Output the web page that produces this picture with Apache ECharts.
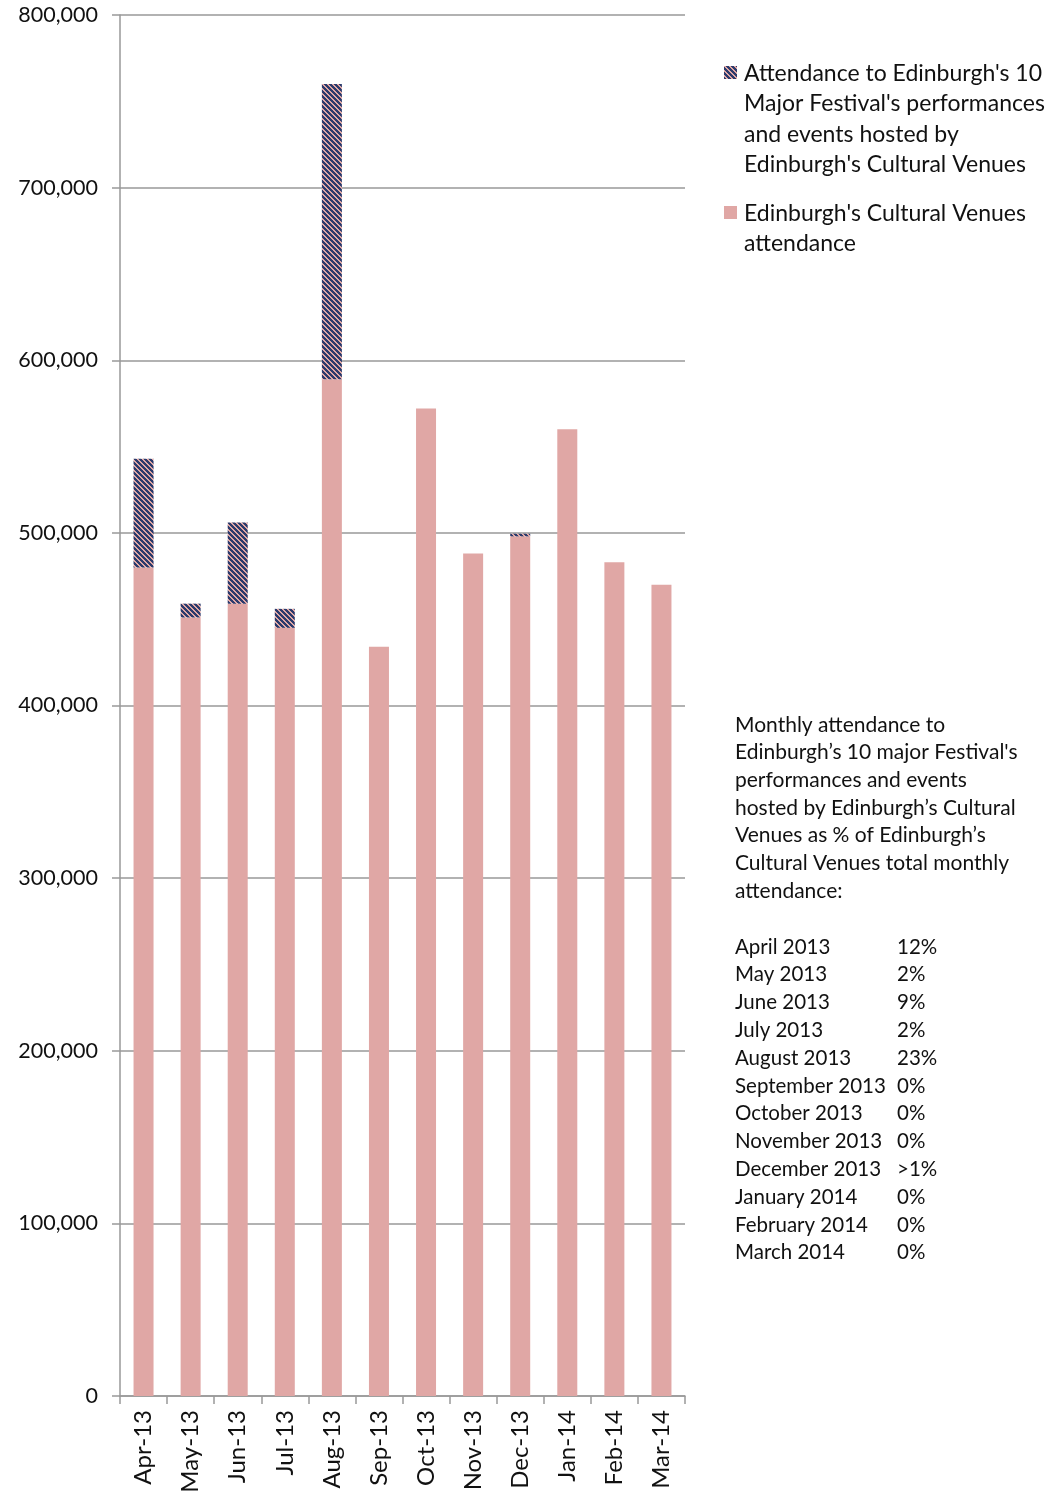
<!DOCTYPE html>
<html><head><meta charset="utf-8">
<script src="https://cdn.jsdelivr.net/npm/echarts@6/dist/echarts.min.js"></script>
<style>html,body{margin:0;padding:0;background:#fff}#c{width:1047px;height:1491px}</style>
</head><body><div id="c"></div>
<script>
const categories = ['Apr-13','May-13','Jun-13','Jul-13','Aug-13','Sep-13','Oct-13','Nov-13','Dec-13','Jan-14','Feb-14','Mar-14'];
const venuesAttendance = [480000,451000,459000,445000,589000,434000,572000,488000,498000,560000,483000,470000];
const festivalAttendance = [63000,8000,47000,11000,171000,0,0,0,1500,0,0,0];
const yTicks = [0,100000,200000,300000,400000,500000,600000,700000,800000];
const legendLabels = ["Attendance to Edinburgh's 10\nMajor Festival's performances\nand events hosted by\nEdinburgh's Cultural Venues", "Edinburgh's Cultural Venues\nattendance"];
const noteMonths = ['April 2013','May 2013','June 2013','July 2013','August 2013','September 2013','October 2013','November 2013','December 2013','January 2014','February 2014','March 2014'];
const notePct = ['12%','2%','9%','2%','23%','0%','0%','0%','>1%','0%','0%','0%'];

const FONT = 'Lato, "Open Sans", sans-serif';
const pink = '#e0a7a5';
const navy = '#2c3b6c';

function makePattern(scale){
  const P = 5;
  const c = document.createElement('canvas');
  c.width = P*scale; c.height = P*scale;
  const g = c.getContext('2d');
  g.fillStyle = pink; g.fillRect(0,0,c.width,c.height);
  g.fillStyle = navy;
  for (let y=0;y<P;y++) for (let x=0;x<P;x++) {
    const d = ((x - y) % P + P) % P;
    if (d<3) g.fillRect(x*scale,y*scale,scale,scale);
  }
  return c;
}
const pc = makePattern(1);

const chart = echarts.init(document.getElementById('c'), null, {renderer:'canvas'});

const graphics = [];
graphics.push({type:'rect', shape:{x:724, y:66, width:13, height:13}, style:{fill:{image:pc, repeat:'repeat'}}});
graphics.push({type:'text', left:744, top:58, style:{text:legendLabels[0], font:'23px '+FONT, fill:'#111', lineHeight:30.5}});
graphics.push({type:'rect', shape:{x:724, y:206, width:13, height:13}, style:{fill:pink}});
graphics.push({type:'text', left:744, top:198, style:{text:legendLabels[1], font:'23px '+FONT, fill:'#111', lineHeight:30.5}});

graphics.push({
  type:'text', left:735, top:711,
  style:{text:"Monthly attendance to\nEdinburgh\u2019s 10 major Festival's\nperformances and events\nhosted by Edinburgh\u2019s Cultural\nVenues as % of Edinburgh\u2019s\nCultural Venues total monthly\nattendance:",
    font:'21px '+FONT, fill:'#111', lineHeight:27.7}
});
noteMonths.forEach((m,i)=>{
  graphics.push({type:'text', left:735, top:933+i*27.8, style:{text:m, font:'20.5px '+FONT, fill:'#111', lineHeight:27.8}});
  graphics.push({type:'text', left:897, top:933+i*27.8, style:{text:notePct[i], font:'20.5px '+FONT, fill:'#111', lineHeight:27.8}});
});

chart.setOption({
  animation:false,
  backgroundColor:'#fff',
  textStyle:{fontFamily:FONT},
  grid:{left:120, right:362, top:15, bottom:95, containLabel:false, outerBoundsMode:'none'},
  xAxis:{
    type:'category', data:categories,
    axisLine:{lineStyle:{color:'#999', width:1.5}},
    axisTick:{show:true, alignWithLabel:false, length:8, lineStyle:{color:'#999', width:1.5}},
    axisLabel:{rotate:90, fontSize:24, color:'#111', margin:14, fontFamily:FONT},
    splitLine:{show:false}
  },
  yAxis:{
    type:'value', min:0, max:800000, interval:100000,
    axisLine:{show:true, lineStyle:{color:'#999', width:1.5}},
    axisTick:{show:true, length:8, lineStyle:{color:'#999', width:1.5}},
    axisLabel:{fontSize:21.5, color:'#111', margin:22, fontFamily:FONT,
      formatter:function(v){return yTicks.indexOf(v)>=0 ? v.toLocaleString('en-US') : '';}},
    splitLine:{lineStyle:{color:'#999', width:1.5}}
  },
  series:[
    {name:"Edinburgh's Cultural Venues attendance", type:'bar', stack:'a', barWidth:20,
      data:venuesAttendance, itemStyle:{color:pink}},
    {name:"Attendance to Edinburgh's 10 Major Festival's performances and events hosted by Edinburgh's Cultural Venues", type:'bar', stack:'a', barWidth:20,
      data:festivalAttendance, itemStyle:{color:{image:pc, repeat:'repeat'}}}
  ],
  graphic:graphics
});
</script></body></html>
